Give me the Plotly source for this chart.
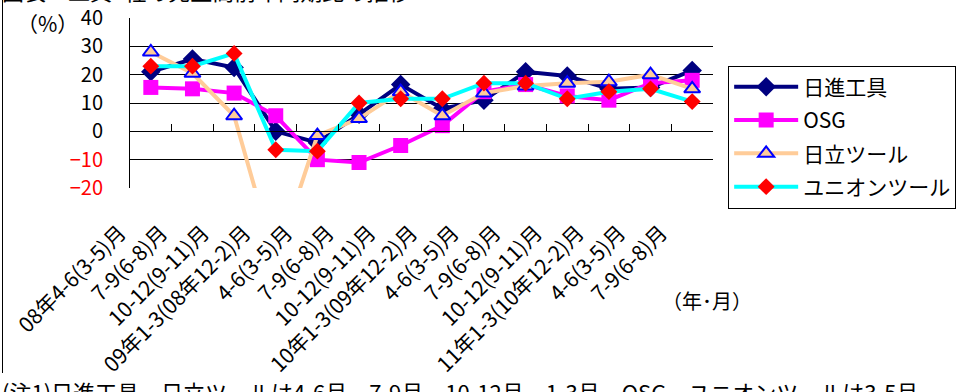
import plotly.graph_objects as go

categories = ["08年4-6(3-5)月", "7-9(6-8)月", "10-12(9-11)月", "09年1-3(08年12-2)月",
              "4-6(3-5)月", "7-9(6-8)月", "10-12(9-11)月", "10年1-3(09年12-2)月",
              "4-6(3-5)月", "7-9(6-8)月", "10-12(9-11)月", "11年1-3(10年12-2)月",
              "4-6(3-5)月", "7-9(6-8)月"]
cat_ids = [f"c{i}" for i in range(len(categories))]

nisshin = [21, 25.5, 22.5, 0, -4, 6, 16.5, 8, 11, 21, 19.5, 15, 15.5, 21.5]
osg = [15.5, 15, 13.5, 5.5, -10, -11, -5, 2, 14, 16.5, 12.5, 11, 17, 18]
hitachi = [28, 20.5, 5.5, -46, -1.5, 4.5, 14, 5.5, 13.5, 16, 17, 17.5, 20, 15]
union = [23, 23, 27.5, -6.5, -7, 10, 11.5, 11.5, 17, 17, 11.5, 14, 15, 10.5]

ytick_vals = [-20, -10, 0, 10, 20, 30, 40]
ytick_text = ["<span style='color:#FF0000'>−20</span>", "<span style='color:#FF0000'>−10</span>",
              "0", "10", "20", "30", "40"]

FONT = "Noto Sans CJK JP"

fig = go.Figure()
fig.add_trace(go.Scatter(x=cat_ids, y=nisshin, name="日進工具", mode="lines+markers",
                         line=dict(color="#000080", width=4), legendgroup="a",
                         marker=dict(symbol="diamond", size=15, color="#000080")))
fig.add_trace(go.Scatter(x=cat_ids, y=osg, name="OSG", mode="lines+markers",
                         line=dict(color="#FF00FF", width=4), legendgroup="b",
                         marker=dict(symbol="square", size=15, color="#FF00FF")))
fig.add_trace(go.Scatter(x=cat_ids, y=hitachi, name="日立ツール", mode="lines+markers",
                         line=dict(color="#FFCC99", width=4), legendgroup="c",
                         marker=dict(symbol="triangle-up", size=14, color="#FFCC99",
                                     line=dict(color="#0000FF", width=2))))
fig.add_trace(go.Scatter(x=cat_ids, y=union, name="ユニオンツール", mode="lines+markers",
                         line=dict(color="#00FFFF", width=4), legendgroup="d",
                         marker=dict(symbol="diamond", size=13, color="#FF0000")))

fig.update_layout(
    width=956, height=392,
    margin=dict(l=130, r=243, t=18, b=204, autoexpand=False),
    paper_bgcolor="white", plot_bgcolor="white",
    font=dict(family=FONT, color="black", size=18),
    showlegend=True,
    legend=dict(x=1.026, y=0.72, xanchor="left", yanchor="top",
                bordercolor="black", borderwidth=1, bgcolor="white",
                font=dict(size=21, family=FONT), itemwidth=64, tracegroupgap=3),
    xaxis=dict(type="category", categoryorder="array", categoryarray=cat_ids,
               tickvals=cat_ids, ticktext=categories, tickangle=-45,
               anchor="free", position=1/3, showline=True, linecolor="black", linewidth=1,
               ticks="inside", tickson="boundaries", ticklen=7, tickcolor="black",
               showgrid=False, zeroline=False, tickfont=dict(size=21, family=FONT),
               ticklabelstandoff=80, ticklabelshift=-31, automargin=False,
               range=[-0.5, len(cat_ids) - 0.5]),
    yaxis=dict(range=[-20, 40], tickvals=ytick_vals, ticktext=ytick_text,
               showgrid=True, gridcolor="black", gridwidth=1,
               showline=True, linecolor="black", linewidth=1, zeroline=False,
               ticks="", tickfont=dict(size=20, family=FONT), ticklabelstandoff=22,
               automargin=False),
)

fig.add_annotation(text="（%）", xref="paper", yref="paper", x=-0.142, y=0.97,
                   xanchor="center", yanchor="middle", showarrow=False,
                   font=dict(size=21, family=FONT))
fig.add_annotation(text="（年･月）", xref="paper", yref="paper", x=0.99, y=-0.659,
                   xanchor="center", yanchor="middle", showarrow=False,
                   font=dict(size=20, family=FONT))
fig.add_annotation(text="図表　工具4社の売上高前年同期比の推移", xref="paper", yref="paper",
                   x=-0.223, y=1.058, xanchor="left", yanchor="bottom", showarrow=False,
                   font=dict(size=22, family=FONT))
fig.add_annotation(text="(注1)日進工具、日立ツールは4-6月、7-9月、10-12月、1-3月、OSG、ユニオンツールは3-5月",
                   xref="paper", yref="paper", x=-0.223, y=-1.09, xanchor="left", yanchor="top",
                   showarrow=False, font=dict(size=22, family=FONT))
fig.add_shape(type="line", xref="paper", yref="paper", xsizemode="pixel", ysizemode="pixel",
              xanchor=0, yanchor=0, x0=-127.5, x1=-127.5, y0=200, y1=-185,
              line=dict(color="black", width=1))

fig.write_html("out.html", config={"displayModeBar": False},
               post_script="document.body.style.margin='0';document.body.style.padding='0';")
